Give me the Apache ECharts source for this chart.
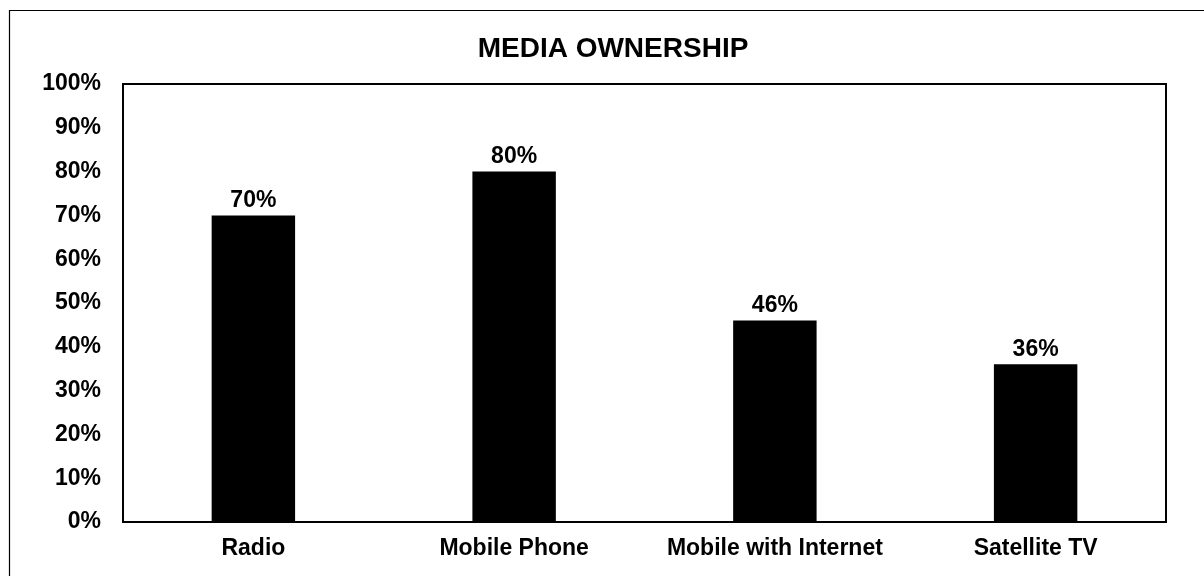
<!DOCTYPE html>
<html>
<head>
<meta charset="utf-8">
<script src="https://cdn.jsdelivr.net/npm/echarts@6/dist/echarts.min.js"></script>
<style>
  html, body { margin: 0; padding: 0; background: #fff; }
  #chart { width: 1204px; height: 576px; }
</style>
</head>
<body>
<div id="chart"></div>
<script>
// Media ownership shares, in percent
const categories = ['Radio', 'Mobile Phone', 'Mobile with Internet', 'Satellite TV'];
const ownership = [70, 80, 46, 36];
const yTicks = { min: 0, max: 100, step: 10 };

const font = '"Liberation Sans", Arial, sans-serif';
const chart = echarts.init(document.getElementById('chart'), null, { renderer: 'canvas' });

chart.setOption({
  animation: false,
  backgroundColor: '#ffffff',
  title: {
    text: 'MEDIA OWNERSHIP',
    left: 608,
    top: 30,
    textAlign: 'center',
    textStyle: { fontFamily: font, fontSize: 28, fontWeight: 'bold', color: '#000' }
  },
  graphic: [{
    type: 'rect',
    shape: { x: 9.5, y: 10.5, width: 1300, height: 700 },
    style: { fill: 'none', stroke: '#000', lineWidth: 1.2 },
    silent: true,
    z: -1
  }],
  grid: {
    left: 123, right: 38, top: 84, bottom: 54,
    show: true, borderColor: '#000', borderWidth: 2, backgroundColor: 'transparent'
  },
  xAxis: {
    type: 'category',
    data: categories,
    axisLine: { show: false },
    axisTick: { show: false },
    axisLabel: {
      interval: 0,
      hideOverlap: false,
      margin: 15,
      fontFamily: font, fontSize: 23, fontWeight: 'bold', color: '#000'
    }
  },
  yAxis: {
    type: 'value',
    min: yTicks.min, max: yTicks.max, interval: yTicks.step,
    axisLine: { show: false },
    axisTick: { show: false },
    splitLine: { show: false },
    axisLabel: {
      margin: 22,
      formatter: '{value}%',
      fontFamily: font, fontSize: 23, fontWeight: 'bold', color: '#000'
    }
  },
  series: [{
    type: 'bar',
    data: ownership,
    barWidth: '32%',
    itemStyle: { color: '#000' },
    label: {
      show: true,
      position: 'top',
      distance: 3,
      formatter: '{c}%',
      fontFamily: font, fontSize: 23, fontWeight: 'bold', color: '#000'
    }
  }]
});
</script>
</body>
</html>
